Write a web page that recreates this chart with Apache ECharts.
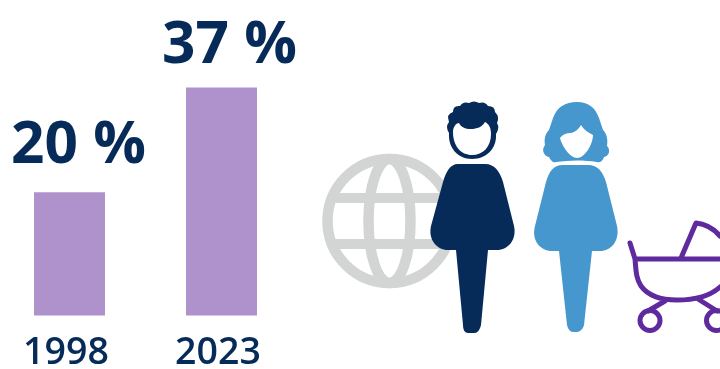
<!DOCTYPE html>
<html>
<head>
<meta charset="utf-8">
<style>html,body{margin:0;padding:0;background:#fff}#c{width:720px;height:369px}</style>
<script src="https://cdn.jsdelivr.net/npm/echarts@6/dist/echarts.min.js"></script>
</head>
<body>
<div id="c"></div>
<script>
const years = ['1998', '2023'];
const shares = [20, 37];
const labelNudges = [[9, -2.5], [8, 2]];

const NAVY = '#062b59', LILAC = '#af92cc', GREY = '#d3d5d4', BLUE = '#4697cd', PURPLE = '#5e2a9e';

// Pictogram outlines, in page pixels
const outlines = {
  manBody: 'M458 164 L485 164 C495 164 500 172 503 182 L514 226 C517 240 508 250 497 250 L488 250 L481 325 C480 330 477 333 475 333 L468 333 C465 333 463 330 463 325 L456 250 L448 250 C437 250 428 240 431 226 L443 182 C446 172 450 164 458 164 Z',
  manHair: 'M449 133 Q445 127 449 122 Q446 114 453 112 Q453 105 460 106 Q463 101 469 103 Q474 100 479 103 Q485 101 488 106 Q495 106 495 112 Q500 117 497 123 Q500 128 496 134 C497 148 487 159 472 159 C458 159 448 148 449 133 Z',
  manFace: 'M453 132 C453 127 456 123 459 123 C461 127 465 129 471 129 C477 129 482 127 485 122 C489 124 491 128 491 134 C491 147 483 155 472 155 C461 155 453 146 453 132 Z',
  womanBody: 'M563 165 L588 165 C598 165 603 172 606 182 L617 226 C620 241 611 251 600 251 L592 251 L584 325 C583 329 580 332 577 332 L573 332 C570 332 568 329 567 325 L559 251 L552 251 C541 251 531 241 535 226 L546 182 C549 172 553 165 563 165 Z',
  womanHair: 'M577 102 C588 102 595 107 599 118 L603 130 C607 134 608 140 607 146 C611 150 609 156 604 157 C603 161 600 163 597 162 C584 160 570 160 556 162 C553 163 551 161 549 157 C544 156 541 150 545 145 C544 139 545 134 549 130 L553 118 C557 107 565 102 577 102 Z',
  womanFace: 'M560 138 C563 134 567 133 571 133 C575 132 579 129 581 125 C584 130 589 133 593 135 C593 144 585 158 577 158 C570 158 562 146 560 138 Z',
  pramFrame: 'M630 243 L635 259 C636 270 636 279 641 286 C649 297 663 300 677 300 C693 300 709 297 720 287 M635 259 L720 259 M681 258 L696 223 C706 224 714 229 720 236 M665 301 L648 311 M698 299 L717 311'
};
Object.keys(outlines).forEach(name => {
  echarts.graphic.registerShape(name, echarts.graphic.extendPath(outlines[name]));
});

const chart = echarts.init(document.getElementById('c'), null, { renderer: 'canvas' });
chart.setOption({
  animation: false,
  backgroundColor: '#fff',
  textStyle: { fontFamily: 'Open Sans' },
  grid: { left: -6.5, width: 304, bottom: 53.5, top: 69.1, containLabel: false, outerBoundsMode: 'none' },
  xAxis: {
    type: 'category',
    data: years,
    axisLine: { show: false },
    axisTick: { show: false },
    axisLabel: { color: NAVY, fontSize: 37.5, fontWeight: 600, margin: 19, padding: [0, 7, 0, 0], fontFamily: 'Open Sans', interval: 0 }
  },
  yAxis: { type: 'value', min: 0, max: 40, show: false, splitLine: { show: false } },
  series: [{
    type: 'bar',
    data: shares.map((value, i) => ({ value, label: { offset: labelNudges[i] } })),
    barWidth: 71,
    itemStyle: { color: LILAC },
    label: {
      show: true,
      position: 'top',
      distance: 14,
      color: NAVY,
      fontSize: 58.5,
      fontWeight: 700,
      fontFamily: 'Open Sans',
      formatter: p => p.value + ' %'
    }
  }],
  graphic: { elements: [
    // Globe
    { type: 'circle', shape: { cx: 389.5, cy: 221, r: 62 }, style: { fill: 'none', stroke: GREY, lineWidth: 10.5 }, z: 10 },
    { type: 'ellipse', shape: { cx: 389.5, cy: 221, rx: 21, ry: 62 }, style: { fill: 'none', stroke: GREY, lineWidth: 10.5 }, z: 10 },
    { type: 'line', shape: { x1: 332, y1: 198, x2: 447, y2: 198 }, style: { stroke: GREY, lineWidth: 10 }, z: 10 },
    { type: 'line', shape: { x1: 332, y1: 244, x2: 447, y2: 244 }, style: { stroke: GREY, lineWidth: 10 }, z: 10 },
    // Man
    { type: 'manBody', style: { fill: NAVY }, z: 11 },
    { type: 'manHair', style: { fill: NAVY }, z: 11 },
    { type: 'manFace', style: { fill: '#fff' }, z: 12 },
    // Woman
    { type: 'womanBody', style: { fill: BLUE }, z: 11 },
    { type: 'womanHair', style: { fill: BLUE }, z: 11 },
    { type: 'womanFace', style: { fill: '#fff' }, z: 12 },
    // Pram
    { type: 'pramFrame', style: { fill: 'none', stroke: PURPLE, lineWidth: 5, lineCap: 'round', lineJoin: 'round' }, z: 11 },
    { type: 'circle', shape: { cx: 650, cy: 320.5, r: 10 }, style: { fill: 'none', stroke: PURPLE, lineWidth: 5 }, z: 11 },
    { type: 'circle', shape: { cx: 716.5, cy: 320.5, r: 10 }, style: { fill: 'none', stroke: PURPLE, lineWidth: 5 }, z: 11 }
  ] }
});
</script>
</body>
</html>
